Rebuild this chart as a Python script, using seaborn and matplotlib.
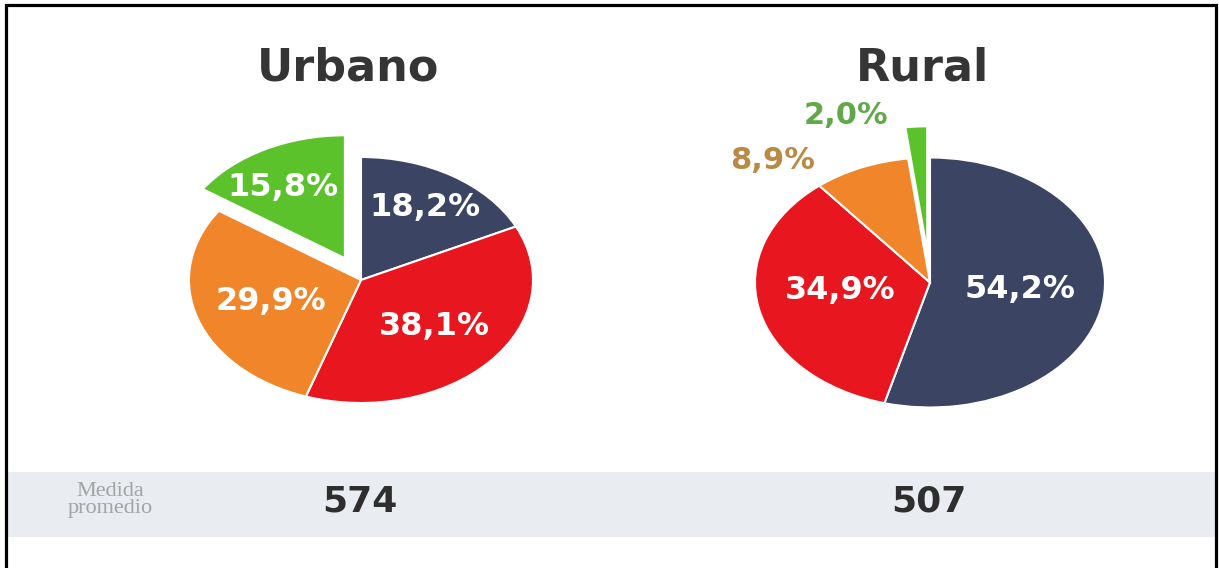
import matplotlib
matplotlib.use("Agg")
import matplotlib.pyplot as plt
import seaborn as sns
import numpy as np
from matplotlib.patches import Rectangle

# data
groups = ["Urbano", "Rural"]
categories = ["A", "B", "C", "D"]
urbano_pct = [18.2, 38.1, 29.9, 15.8]
rural_pct = [54.2, 34.9, 8.9, 2.0]
promedio = [574, 507]
band_label = "Medida\npromedio"

sns.set_theme(style="white")
plt.rcParams['font.family'] = ['DejaVu Sans']

colors = ["#3b4462", "#e8171f", "#f0852a", "#5cc22c"]

fig = plt.figure(figsize=(12.19, 5.68), dpi=100)
W, H = 1219, 568

# grey band at the bottom
fig.add_artist(Rectangle((8 / W, 31 / H), 1207 / W, 65 / H, transform=fig.transFigure,
                         facecolor="#e9ecf0", edgecolor="none", zorder=0))
# outer frame
fig.add_artist(Rectangle((5.5 / W, -0.05), 1210 / W, 1.05 - 5 / H, transform=fig.transFigure,
                         facecolor="none", edgecolor="black", linewidth=2.3, zorder=5))


def draw_pie(rect, values, explode, label_style):
    ax = fig.add_axes(rect)
    wedges, _ = ax.pie(values, colors=colors, startangle=90, counterclock=False,
                       explode=explode,
                       wedgeprops=dict(edgecolor="white", linewidth=1.5))
    ax.set_aspect("auto")
    ax.set_xlim(-1.5, 1.5)
    ax.set_ylim(-1.5, 1.5)
    ax.axis("off")
    for w, v, (r, dth, col, fs) in zip(wedges, values, label_style):
        th = np.deg2rad((w.theta1 + w.theta2) / 2 + dth)
        cx, cy = w.center
        ax.text(cx + r * np.cos(th), cy + r * np.sin(th),
                f"{v:.1f}%".replace(".", ","), ha="center", va="center",
                color=col, fontsize=fs, fontweight="bold")
    return ax


# Urbano pie, centre ~ (361, 280) px, radii 172 x 123
draw_pie([(361 - 258) / W, (288 - 184.5) / H, 516 / W, 369 / H],
         urbano_pct, [0, 0, 0, 0.2],
         [(0.7, 0, "white", 23), (0.57, 0, "white", 23),
          (0.55, 0, "white", 23), (0.68, 4, "white", 23)])

# Rural pie, centre ~ (930, 282) px, radii 175 x 125
draw_pie([(930 - 262.5) / W, (285.5 - 187.5) / H, 525 / W, 375 / H],
         rural_pct, [0, 0, 0, 0.25],
         [(0.52, 1, "white", 23), (0.52, -5, "white", 23),
          (1.33, 19.5, "#b98a45", 22), (1.18, 19.6, "#62a84a", 22)])

# titles
for name, x in zip(groups, [348, 922]):
    fig.text(x / W, 1 - 68 / H, name, ha="center", va="center",
             fontsize=32, fontweight="bold", color="#353535")

# values in the band
for val, x in zip(promedio, [360, 929]):
    fig.text(x / W, 1 - 502 / H, str(val), ha="center", va="center",
             fontsize=26, fontweight="bold", color="#2e2e2e")
fig.text(110 / W, 1 - 500 / H, band_label, ha="center", va="center",
         fontsize=16, color="#a3a3a3", family=["Liberation Serif", "DejaVu Serif"],
         linespacing=0.9)

fig.savefig("out.png", dpi=100, facecolor="white")
